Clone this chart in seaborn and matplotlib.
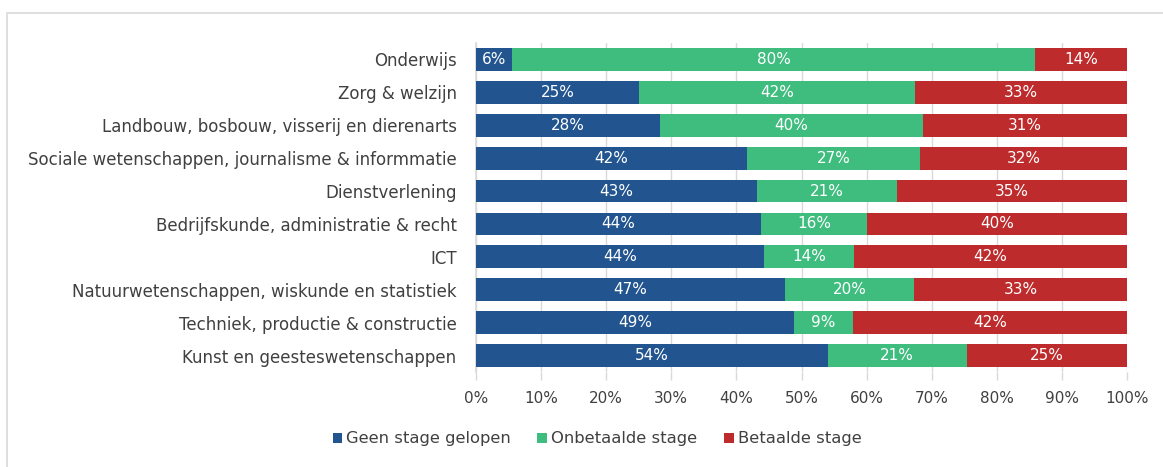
import matplotlib
matplotlib.use("Agg")
import matplotlib.pyplot as plt
import seaborn as sns
import pandas as pd
import numpy as np
from matplotlib.patches import Rectangle, Patch
from matplotlib import font_manager

categories = [
    "Onderwijs",
    "Zorg & welzijn",
    "Landbouw, bosbouw, visserij en dierenarts",
    "Sociale wetenschappen, journalisme & informmatie",
    "Dienstverlening",
    "Bedrijfskunde, administratie & recht",
    "ICT",
    "Natuurwetenschappen, wiskunde en statistiek",
    "Techniek, productie & constructie",
    "Kunst en geesteswetenschappen",
]
geen = [5.6, 25.1, 28.2, 41.6, 43.2, 43.8, 44.2, 47.4, 48.9, 54.0]
onbetaald = [80.3, 42.3, 40.4, 26.6, 21.4, 16.3, 13.9, 19.9, 9.0, 21.4]
betaald = [14.1, 32.6, 31.4, 31.8, 35.4, 39.9, 41.9, 32.7, 42.1, 24.6]
series_names = ["Geen stage gelopen", "Onbetaalde stage", "Betaalde stage"]
xticks = [0, 10, 20, 30, 40, 50, 60, 70, 80, 90, 100]

colors = ["#22558f", "#3fbd7f", "#be2b2c"]
text_color = "#404040"
grid_color = "#d9d9d9"

sns.set_theme(style="white")
plt.rcParams["font.family"] = ["DejaVu Sans"]

installed = {f.name for f in font_manager.fontManager.ttflist}
narrow = "Liberation Sans Narrow" if "Liberation Sans Narrow" in installed else "DejaVu Sans"
narrow_size = 12.5 if narrow == "Liberation Sans Narrow" else 11

W, H = 1163, 467
fig = plt.figure(figsize=(W / 100, H / 100), dpi=100)
ax = fig.add_axes([476 / W, 1 - 372 / H, (1127 - 476) / W, (372 - 43) / H])

df = pd.DataFrame({"cat": categories, "g": geen, "o": onbetaald, "b": betaald})
df["c1"] = df["g"]
df["c2"] = df["g"] + df["o"]
df["c3"] = df["g"] + df["o"] + df["b"]

for col, colr in zip(["c3", "c2", "c1"], colors[::-1]):
    sns.barplot(data=df, x=col, y="cat", orient="h", color=colr, width=0.69,
                saturation=1, ax=ax, order=categories, zorder=3, linewidth=0)

# labels
for i, row in df.iterrows():
    starts = [0, row["c1"], row["c2"]]
    vals = [row["g"], row["o"], row["b"]]
    for s, v in zip(starts, vals):
        ax.text(s + v / 2, i, f"{round(v)}%", ha="center", va="center",
                color="white", fontsize=narrow_size, family=narrow, zorder=5)

ax.set_xlim(0, 100)
ax.set_ylim(len(categories) - 0.5, -0.5)
ax.set_xticks(xticks)
ax.set_xticklabels([f"{t}%" for t in xticks], color=text_color,
                   fontsize=narrow_size, family=narrow)
ax.set_ylabel("")
ax.set_xlabel("")
ax.tick_params(axis="y", labelsize=12, labelcolor=text_color, length=0, pad=14)
ax.tick_params(axis="x", length=6, color=grid_color, width=1, direction="out", pad=8, bottom=True)
ax.xaxis.grid(True, color=grid_color, lw=1, zorder=0)
ax.set_axisbelow(True)
for s in ["top", "right", "bottom"]:
    ax.spines[s].set_visible(False)
ax.spines["left"].set_color(grid_color)

handles = [Patch(facecolor=c, edgecolor="none") for c in colors]
fig.legend(handles, series_names, loc="center", bbox_to_anchor=(597 / W, 1 - 439 / H),
           ncol=3, frameon=False, handlelength=0.6, handleheight=0.6,
           handletextpad=0.25, columnspacing=1.6, fontsize=11.8,
           labelcolor=text_color)

fig.add_artist(Rectangle((7 / W, -0.1), 1.2, (1 - 13 / H) + 0.1, transform=fig.transFigure,
                         fill=False, edgecolor=grid_color, lw=1.2))

fig.savefig("out.png", dpi=100)
